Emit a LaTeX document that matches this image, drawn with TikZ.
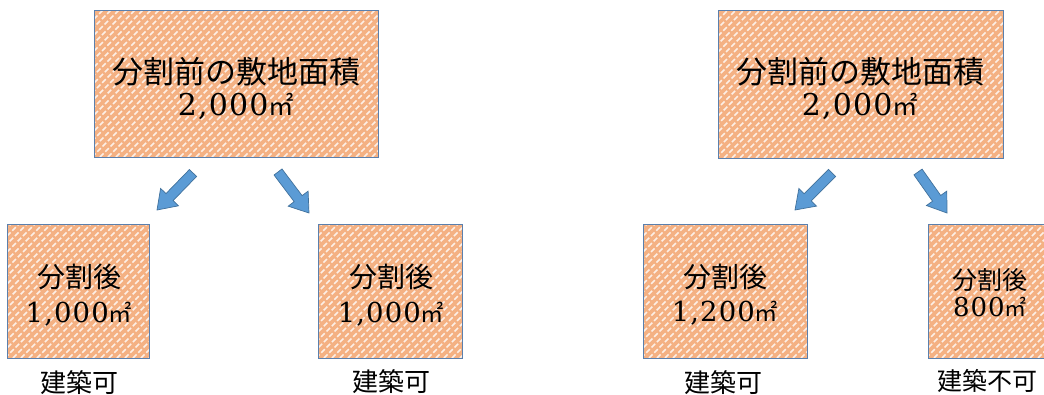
\documentclass[tikz,border=0pt]{standalone}
\usepackage{fontspec}
\setmainfont{Liberation Serif}
\newfontfamily\jpfont{Noto Sans CJK JP}
\newfontfamily\numfont[LetterSpace=4]{DejaVu Serif}
\usetikzlibrary{calc}
\definecolor{boxfill}{HTML}{F4B183}
\definecolor{boxline}{HTML}{5A80AE}
\definecolor{arrfill}{HTML}{5B9BD5}
\definecolor{arrline}{HTML}{41719C}
\newcommand\sqmeter{{\jpfont\scalebox{0.85}{㎡}}}
\newcommand\blockarrow[2]{%
  \coordinate (#1#2h) at ($(#2)!18pt!(#1)$);
  \draw[arrowshape] ($(#1)!5pt!90:(#2)$) -- ($(#1#2h)!5pt!90:(#2)$)
    -- ($(#1#2h)!12.5pt!90:(#2)$) -- (#2) -- ($(#1#2h)!12.5pt!-90:(#2)$)
    -- ($(#1#2h)!5pt!-90:(#2)$) -- ($(#1)!5pt!-90:(#2)$) -- cycle;
}
\tikzset{
  patbox/.style={draw=boxline, line width=0.8pt, fill=boxfill, inner sep=0pt,
    path picture={
      \foreach \i in {-170,-162,...,300}{
        \draw[white, line width=1.6pt, dash pattern=on 5pt off 2.5pt, opacity=0.8]
          ([xshift=\i pt]path picture bounding box.south west) -- ++(200pt,200pt);
      }}},
  arrowshape/.style={fill=arrfill, draw=arrline, line width=0.7pt, line join=miter},
  bigjp/.style={font=\jpfont\fontsize{31pt}{31pt}\selectfont, inner sep=0pt, anchor=base},
  bignum/.style={font=\numfont\fontsize{30pt}{30pt}\selectfont, inner sep=0pt, anchor=base},
  midjp/.style={font=\jpfont\fontsize{28pt}{28pt}\selectfont, inner sep=0pt, anchor=base},
  midnum/.style={font=\numfont\fontsize{27.5pt}{27.5pt}\selectfont, inner sep=0pt, anchor=base},
  smalljp/.style={font=\jpfont\fontsize{25pt}{25pt}\selectfont, inner sep=0pt, anchor=base},
  smallnum/.style={font=\numfont\fontsize{26pt}{26pt}\selectfont, inner sep=0pt, anchor=base},
  lbl/.style={font=\jpfont\fontsize{26pt}{26pt}\selectfont, inner sep=0pt, anchor=base},
}
\begin{document}
\begin{tikzpicture}[x=1pt,y=-1pt]
\useasboundingbox (0,0) rectangle (1044,394);
% boxes
\node[patbox, minimum width=284pt, minimum height=147pt] (A) at (236,83.5) {};
\node[patbox, minimum width=285pt, minimum height=148pt] (B) at (860.5,84) {};
\node[patbox, minimum width=142pt, minimum height=134pt] (L1) at (78,291) {};
\node[patbox, minimum width=144pt, minimum height=134pt] (L2) at (390,291) {};
\node[patbox, minimum width=164pt, minimum height=134pt] (R1) at (725,291) {};
\node[patbox, minimum width=124pt, minimum height=134pt] (R2) at (990,291) {};
% texts
\node[bigjp] (At1) at (236,83.5) {分割前の敷地面積};
\node[bignum] (At2) at (236,115) {2,000\sqmeter};
\node[bigjp] (Bt1) at (860,83.5) {分割前の敷地面積};
\node[bignum] (Bt2) at (860,115) {2,000\sqmeter};
\node[midjp] (L1t1) at (79,287.5) {分割後};
\node[midnum] (L1t2) at (79,322) {1,000\sqmeter};
\node[midjp] (L2t1) at (391,287.5) {分割後};
\node[midnum] (L2t2) at (391,322) {1,000\sqmeter};
\node[midjp] (R1t1) at (725,287.5) {分割後};
\node[midnum] (R1t2) at (725,321) {1,200\sqmeter};
\node[smalljp] (R2t1) at (990,289.5) {分割後};
\node[smallnum] (R2t2) at (990,316.5) {800\sqmeter};
% labels
\node[lbl] (L1l) at (79,392) {建築可};
\node[lbl] (L2l) at (391,391) {建築可};
\node[lbl] (R1l) at (723.5,392) {建築可};
\node[lbl, font=\jpfont\fontsize{25pt}{25pt}\selectfont] (R2l) at (987.5,390.5) {建築不可};
% arrows
\coordinate (t1) at (193,173); \coordinate (p1) at (157,210);
\coordinate (t2) at (278,172); \coordinate (p2) at (309,213);
\coordinate (t3) at (832,173); \coordinate (p3) at (795,210);
\coordinate (t4) at (918,172); \coordinate (p4) at (947,213);
\blockarrow{t1}{p1}
\blockarrow{t2}{p2}
\blockarrow{t3}{p3}
\blockarrow{t4}{p4}
\end{tikzpicture}
\end{document}
